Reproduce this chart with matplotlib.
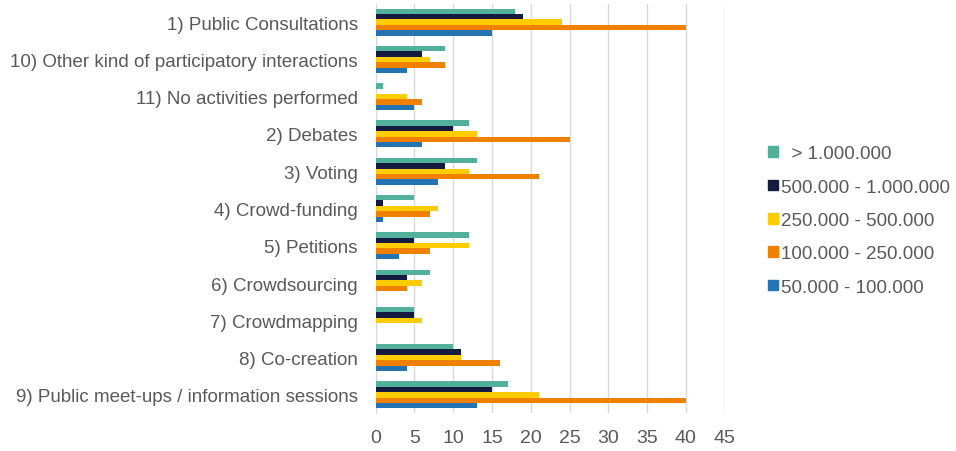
import numpy as np
import matplotlib.pyplot as plt
from matplotlib.patches import Patch

# Categories, listed top to bottom
categories = ['1) Public Consultations',
              '10) Other kind of participatory interactions',
              '11) No activities performed',
              '2) Debates',
              '3) Voting',
              '4) Crowd-funding',
              '5) Petitions',
              '6) Crowdsourcing',
              '7) Crowdmapping',
              '8) Co-creation',
              '9) Public meet-ups / information sessions']

# Series values (same order as categories)
over_1m = [18, 9, 1, 12, 13, 5, 12, 7, 5, 10, 17]
s500k_1m = [19, 6, 0, 10, 9, 1, 5, 4, 5, 11, 15]
s250k_500k = [24, 7, 4, 13, 12, 8, 12, 6, 6, 11, 21]
s100k_250k = [40, 9, 6, 25, 21, 7, 7, 4, 0, 16, 40]
s50k_100k = [15, 4, 5, 6, 8, 1, 3, 0, 0, 4, 13]

series_labels = ['  > 1.000.000', '500.000 - 1.000.000', '250.000 - 500.000',
                 '100.000 - 250.000', '50.000 - 100.000']
series = [over_1m, s500k_1m, s250k_500k, s100k_250k, s50k_100k]
colors = ['#52B09B', '#151A40', '#FFCC00', '#F08000', '#2473B3']

plt.rcParams['font.family'] = ['Liberation Sans', 'DejaVu Sans']
text_color = '#595959'
fs = 13.5

fig = plt.figure(figsize=(9.56, 4.52), dpi=100)
ax = fig.add_axes([0.393, 0.083, 0.365, 0.907])

y = np.arange(len(categories))
h = 0.145
for j, (vals, col) in enumerate(zip(series, colors)):
    ax.barh(y + (j - 2) * h, vals, height=h, color=col, zorder=3)

ax.set_xlim(0, 45)
ax.set_xticks(np.arange(0, 46, 5))
ax.set_ylim(len(categories) - 0.5, -0.5)
ax.set_yticks(y)
ax.set_yticklabels(categories)
ax.tick_params(axis='both', length=0, labelsize=fs, colors=text_color)
ax.tick_params(axis='y', pad=13)
ax.tick_params(axis='x', pad=11, labelsize=14)
ax.grid(axis='x', color='#D9D9D9', linewidth=1, zorder=0)
for s in ['top', 'right', 'bottom']:
    ax.spines[s].set_visible(False)
ax.spines['left'].set_color('#D9D9D9')

handles = [Patch(color=c, label=l) for c, l in zip(colors, series_labels)]
fig.legend(handles=handles, loc='center left', bbox_to_anchor=(0.786, 0.51),
           frameon=False, fontsize=fs, labelcolor=text_color,
           handlelength=0.5, handleheight=0.5, handletextpad=0.2,
           labelspacing=0.875)

fig.savefig('out.png', dpi=100)
